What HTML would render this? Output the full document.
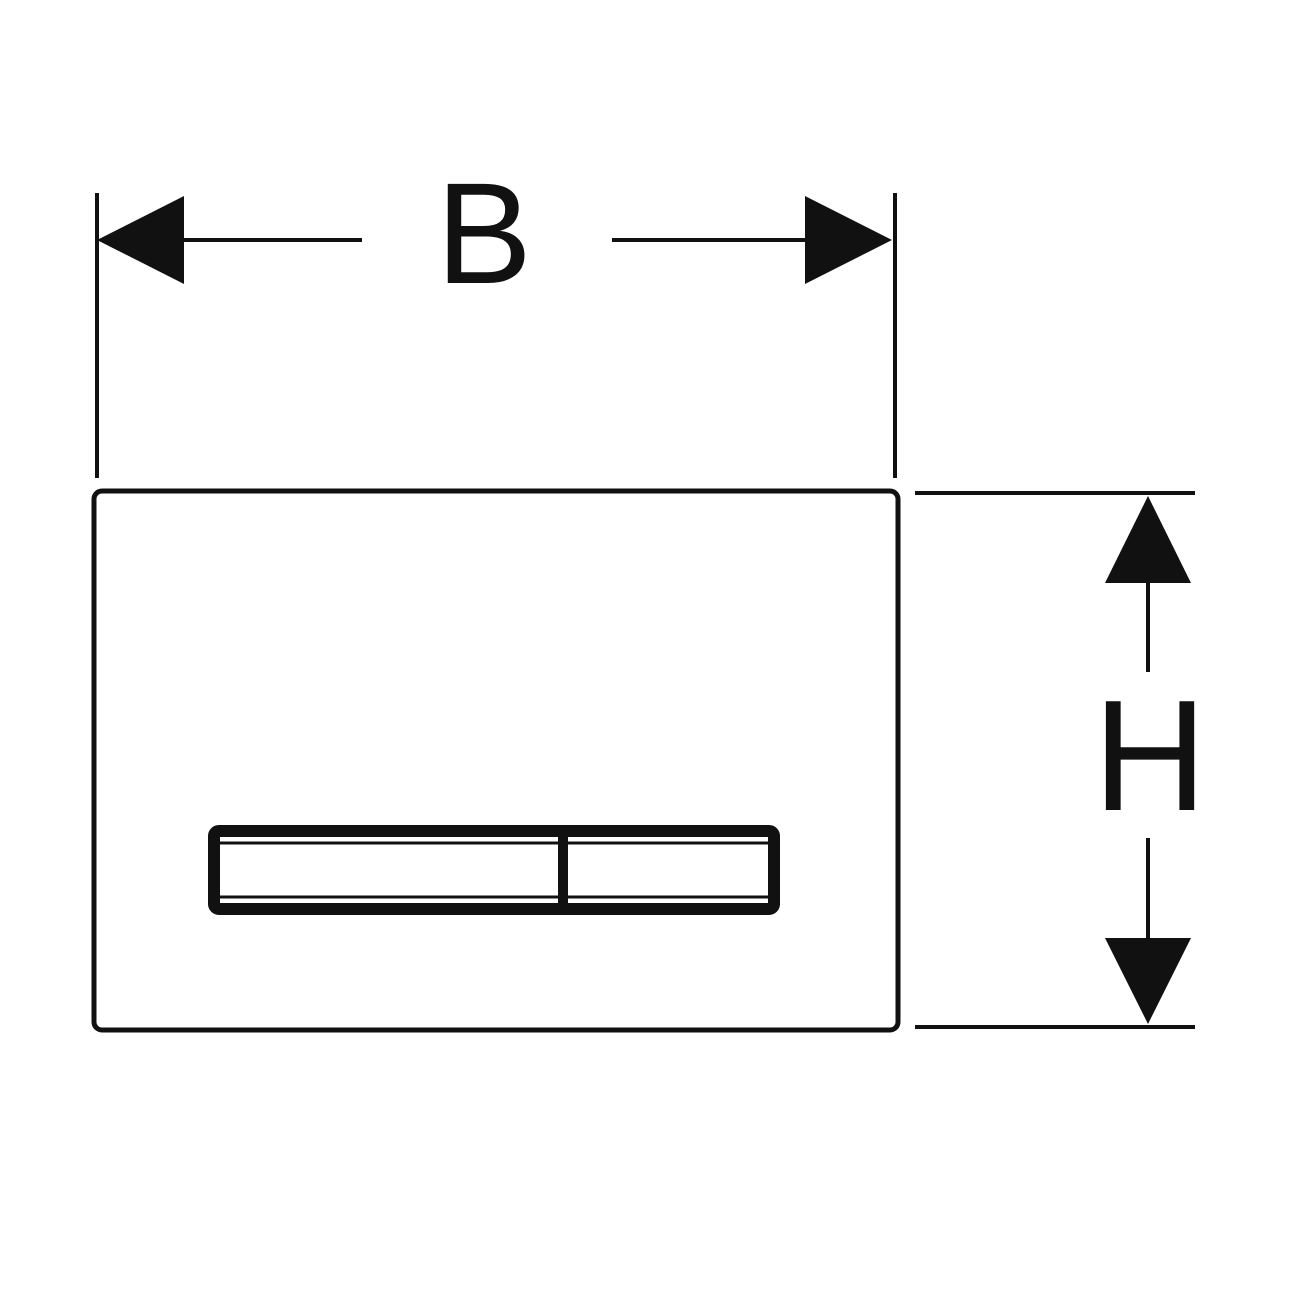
<!DOCTYPE html>
<html><head><style>html,body{margin:0;padding:0;background:#fff;}</style></head>
<body>
<svg width="1300" height="1300" viewBox="0 0 1300 1300" xmlns="http://www.w3.org/2000/svg">
<rect width="1300" height="1300" fill="#fff"/>
<g stroke="#111" fill="none">
  <!-- B extension lines -->
  <line x1="97" y1="193" x2="97" y2="478" stroke-width="4"/>
  <line x1="895" y1="193" x2="895" y2="478" stroke-width="4"/>
  <line x1="184" y1="240" x2="362" y2="240" stroke-width="4"/>
  <line x1="612" y1="240" x2="805" y2="240" stroke-width="4"/>
  <!-- H extension lines -->
  <line x1="915" y1="493" x2="1195" y2="493" stroke-width="4"/>
  <line x1="915" y1="1027" x2="1195" y2="1027" stroke-width="4"/>
  <line x1="1148" y1="583" x2="1148" y2="672" stroke-width="4"/>
  <line x1="1148" y1="838" x2="1148" y2="938" stroke-width="4"/>
  <!-- plate -->
  <rect x="94" y="491" width="804" height="539" rx="8" stroke-width="5"/>
  <!-- button -->
  <rect x="214" y="831" width="560" height="78" rx="5" stroke-width="12"/>
  <line x1="563" y1="831" x2="563" y2="909" stroke-width="10"/>
  <line x1="220" y1="843" x2="768" y2="843" stroke-width="3"/>
  <line x1="220" y1="897" x2="768" y2="897" stroke-width="3"/>
</g>
<g fill="#111">
  <polygon points="97,240 184,196 184,284"/>
  <polygon points="892,240 805,196 805,284"/>
  <polygon points="1148,496 1105,583 1191,583"/>
  <polygon points="1148,1024 1105,938 1191,938"/>
</g>
<text x="484" y="283" font-family="Liberation Sans, sans-serif" font-size="144" text-anchor="middle" fill="#111">B</text>
<text x="1150" y="810" font-family="Liberation Sans, sans-serif" font-size="158" text-anchor="middle" fill="#111">H</text>
</svg>
</body></html>
